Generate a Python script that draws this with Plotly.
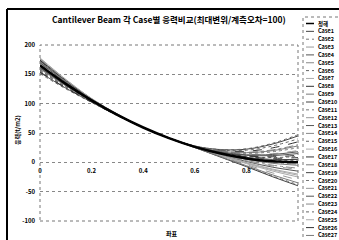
import plotly.graph_objects as go

x_vals = [0.0, 0.1, 0.2, 0.3, 0.4, 0.5, 0.6, 0.7, 0.8, 0.9, 1.0]

exact = [165, 133.7, 105.6, 80.9, 59.4, 41.3, 26.4, 14.9, 6.6, 1.7, 0]

cases = {
    "Case1": [173, 138.5, 107.6, 81.7, 59.6, 41.5, 27.8, 21.7, 22.4, 31.0, 45],
    "Case2": [155, 127.7, 103.1, 79.9, 59.1, 41.0, 25.3, 9.2, -6.7, -23.0, -38],
    "Case3": [168, 135.5, 106.4, 81.2, 59.5, 41.4, 27.0, 17.9, 13.6, 14.7, 20],
    "Case4": [160, 130.7, 104.4, 80.4, 59.3, 41.2, 25.9, 12.7, 1.4, -8.1, -15],
    "Case5": [177, 140.9, 108.6, 82.1, 59.7, 41.6, 27.3, 19.4, 17.1, 21.2, 30],
    "Case6": [151, 125.3, 102.1, 79.5, 59.0, 41.1, 26.7, 16.4, 10.1, 8.2, 10],
    "Case7": [171, 137.3, 107.1, 81.5, 59.5, 41.2, 25.7, 11.2, -2.2, -14.6, -25],
    "Case8": [165, 133.9, 105.8, 81.0, 59.5, 41.5, 27.4, 20.2, 18.9, 24.5, 35],
    "Case9": [162, 131.9, 104.9, 80.6, 59.3, 41.2, 26.3, 14.2, 4.9, -1.6, -5],
    "Case10": [175, 139.7, 108.1, 81.9, 59.6, 41.4, 26.6, 15.7, 8.4, 5.0, 5],
    "Case11": [157, 128.9, 103.6, 80.1, 59.2, 41.3, 27.2, 18.7, 15.4, 17.9, 25],
    "Case12": [169, 136.1, 106.6, 81.3, 59.5, 41.1, 25.5, 10.4, -3.9, -17.8, -30],
    "Case13": [153, 126.5, 102.6, 79.7, 59.1, 41.3, 26.9, 17.2, 11.9, 11.5, 15],
    "Case14": [167, 134.9, 106.1, 81.1, 59.4, 41.3, 26.1, 13.4, 3.1, -4.8, -10],
    "Case15": [172, 137.9, 107.4, 81.6, 59.6, 41.6, 27.6, 20.9, 20.6, 27.7, 40],
    "Case16": [159, 130.1, 104.1, 80.3, 59.2, 41.2, 25.8, 11.9, -0.4, -11.3, -20],
    "Case17": [174, 139.1, 107.9, 81.8, 59.5, 41.4, 26.8, 16.7, 10.8, 9.5, 12],
    "Case18": [163, 132.5, 105.1, 80.7, 59.3, 41.4, 27.2, 19.1, 16.4, 19.9, 28],
    "Case19": [170, 136.7, 106.9, 81.4, 59.4, 41.0, 25.2, 8.9, -7.4, -24.3, -40],
    "Case20": [156, 128.3, 103.4, 80.0, 59.2, 41.3, 26.5, 15.4, 7.7, 3.7, 3],
    "Case21": [176, 140.3, 108.4, 82.0, 59.6, 41.2, 26.0, 13.1, 2.4, -6.1, -12],
    "Case22": [161, 131.3, 104.6, 80.5, 59.3, 41.4, 26.9, 17.6, 12.9, 13.4, 18],
    "Case23": [166, 134.3, 105.9, 81.0, 59.4, 41.3, 26.3, 14.5, 5.5, -0.3, -3],
    "Case24": [158, 129.5, 103.9, 80.2, 59.3, 41.6, 27.8, 21.9, 23.1, 32.3, 47],
    "Case25": [178, 141.5, 108.9, 82.2, 59.7, 41.2, 25.7, 11.6, -1.1, -12.6, -22],
    "Case26": [154, 127.1, 102.9, 79.8, 59.1, 41.3, 26.6, 16.1, 9.4, 6.9, 8],
    "Case27": [171, 137.3, 107.1, 81.5, 59.5, 41.1, 25.4, 9.7, -5.7, -21.1, -35],
}

x_ticks = [0, 0.2, 0.4, 0.6, 0.8]
x_tick_text = ["0", "0.2", "0.4", "0.6", "0.8"]
y_ticks = [-100, -50, 0, 50, 100, 150, 200]

title_text = "Cantilever Beam 각 Case별 응력비교(최대변위/계측오차=100)"
y_title = "응력(t/m2)"
x_title = "좌표"
legend_names = ["정해"] + list(cases.keys())

FONT = "Noto Sans CJK KR, Noto Sans, sans-serif"
grays = ["#444", "#777", "#999", "#555", "#888", "#666", "#aaa", "#333", "#7a7a7a"]
dashes = ["solid", "dot", "dash", "solid", "dashdot", "dot", "solid", "dash", "solid"]

fig = go.Figure()
for i, (name, vals) in enumerate(cases.items()):
    fig.add_trace(go.Scatter(
        x=x_vals, y=vals, mode="lines", name=name, showlegend=False,
        line=dict(color=grays[i % len(grays)], width=1, dash=dashes[i % len(dashes)], shape="spline"),
    ))
fig.add_trace(go.Scatter(
    x=x_vals, y=exact, mode="lines", name="정해", showlegend=False,
    line=dict(color="#000", width=2.5, shape="spline"),
))

# plot geometry (pixels)
L, R, T, B = 40, 298, 45, 221
W, H = R - L, B - T

def px(x):
    return (x - L) / W

def py(y):
    return (B - y) / H

shapes = [
    dict(type="rect", xref="paper", yref="paper", x0=0, x1=1, y0=0, y1=1,
         line=dict(color="#777", width=1, dash="dot")),
    dict(type="line", xref="paper", yref="paper", x0=px(7), x1=px(7), y0=py(9), y1=py(250),
         line=dict(color="#000", width=2)),
    dict(type="line", xref="paper", yref="paper", x0=px(7), x1=px(350), y0=py(9), y1=py(9),
         line=dict(color="#000", width=2)),
    dict(type="rect", xref="paper", yref="paper", x0=px(303), x1=px(360), y0=py(250), y1=py(17),
         line=dict(color="#777", width=1, dash="dot"), fillcolor="rgba(0,0,0,0)"),
]

annotations = [
    dict(text=f"<b>{title_text}</b>", xref="paper", yref="paper", x=px(169), y=py(19),
         showarrow=False, font=dict(size=8.5, color="#000", family=FONT), xanchor="center", yanchor="middle"),
    dict(text=f"<b>{y_title}</b>", xref="paper", yref="paper", x=px(17), y=py(130),
         showarrow=False, textangle=-90, font=dict(size=6, color="#000", family=FONT),
         xanchor="center", yanchor="middle"),
    dict(text=f"<b>{x_title}</b>", xref="paper", yref="paper", x=px(172), y=py(233),
         showarrow=False, font=dict(size=6, color="#000", family=FONT), xanchor="center", yanchor="middle"),
]

leg_colors = ["#000"] + [grays[i % len(grays)] for i in range(len(cases))]
leg_dashes = ["solid"] + [dashes[i % len(dashes)] for i in range(len(cases))]
for i, nm in enumerate(legend_names):
    yy = 23.5 + i * 7.85
    shapes.append(dict(type="line", xref="paper", yref="paper", x0=px(306), x1=px(314),
                       y0=py(yy), y1=py(yy),
                       line=dict(color=leg_colors[i], width=1.5 if i == 0 else 1, dash=leg_dashes[i])))
    annotations.append(dict(text=f"<b>{nm}</b>", xref="paper", yref="paper", x=px(316), y=py(yy),
                            showarrow=False, xanchor="left", yanchor="middle",
                            font=dict(size=5.5, color="#000", family=FONT)))

fig.update_layout(
    width=339, height=240,
    margin=dict(l=L, r=339 - R, t=T, b=240 - B, autoexpand=False),
    paper_bgcolor="white", plot_bgcolor="white",
    font=dict(family=FONT, size=6, color="#000"),
    xaxis=dict(range=[0, 1], tickvals=x_ticks, ticktext=[f"<b>{t}</b>" for t in x_tick_text],
               showgrid=False, zeroline=False, showline=False, ticks="",
               anchor="free", position=1 / 3, tickfont=dict(size=6), automargin=False,
               ticklabelstandoff=4),
    yaxis=dict(range=[-100, 200], tickvals=y_ticks, ticktext=[f"<b>{v}</b>" for v in y_ticks],
               showgrid=True, gridcolor="#888", griddash="dot", gridwidth=1,
               zeroline=False, showline=False, ticks="", tickfont=dict(size=6), automargin=False,
               ticklabelstandoff=4),
    shapes=shapes,
    annotations=annotations,
)

fig.write_html("out.html", config={"displayModeBar": False},
               post_script="document.body.style.margin='0';")
